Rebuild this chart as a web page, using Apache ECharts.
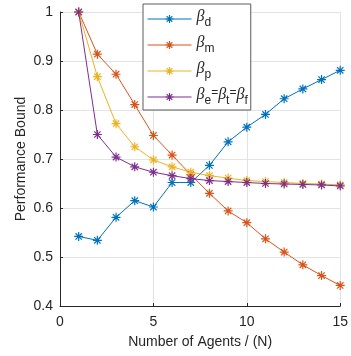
<!DOCTYPE html>
<html>
<head>
<meta charset="utf-8">
<script src="https://cdn.jsdelivr.net/npm/echarts@6/dist/echarts.min.js"></script>
<style>
  html, body { margin: 0; padding: 0; background: #fff; }
  #chart { width: 351px; height: 356px; }
</style>
</head>
<body>
<div id="chart"></div>
<script>
// Number of agents on the horizontal axis
const agents = [1, 2, 3, 4, 5, 6, 7, 8, 9, 10, 11, 12, 13, 14, 15];

// Performance bound for each bound type
const betaD = [0.542, 0.534, 0.581, 0.615, 0.602, 0.652, 0.652, 0.687, 0.735, 0.765, 0.791, 0.823, 0.843, 0.862, 0.881];
const betaM = [1.000, 0.914, 0.873, 0.811, 0.748, 0.708, 0.668, 0.630, 0.594, 0.570, 0.537, 0.510, 0.484, 0.462, 0.442];
const betaP = [1.000, 0.868, 0.772, 0.725, 0.698, 0.684, 0.673, 0.666, 0.661, 0.656, 0.654, 0.652, 0.650, 0.649, 0.647];
const betaE = [1.000, 0.750, 0.704, 0.684, 0.673, 0.666, 0.660, 0.656, 0.654, 0.652, 0.650, 0.649, 0.648, 0.647, 0.645];

// Legend labels (rich-text markup) and axis settings
const seriesNames = ['{b|β}{s|d}', '{b|β}{s|m}', '{b|β}{s|p}', '{b|β}{s|e}{t|=}{b|β}{s|t}{t|=}{b|β}{s|f}'];
const xTicks = { min: 0, max: 15, interval: 5 };
const yTicks = { min: 0.4, max: 1, interval: 0.1 };

const colors = ['#0072BD', '#D95319', '#EDB120', '#7E2F8E'];
const ink = '#262626';
const star = 'path://M0,-1L0,1M-1,0L1,0M-0.7071,-0.7071L0.7071,0.7071M-0.7071,0.7071L0.7071,-0.7071';

function pairs(ys) { return agents.map((x, i) => [x, ys[i]]); }

function makeSeries(name, ys, color) {
  return {
    name: name,
    type: 'line',
    data: pairs(ys),
    symbol: star,
    symbolSize: 9,
    showSymbol: true,
    lineStyle: { color: color, width: 1 },
    itemStyle: { color: 'rgba(0,0,0,0)', borderColor: color, borderWidth: 1.2 },
    emphasis: { disabled: true }
  };
}

const chart = echarts.init(document.getElementById('chart'), null, { renderer: 'canvas' });
chart.setOption({
  animation: false,
  backgroundColor: '#ffffff',
  grid: { left: 60, right: 10, top: 12, bottom: 50, containLabel: false },
  xAxis: {
    type: 'value',
    min: xTicks.min, max: xTicks.max, interval: xTicks.interval,
    name: 'Number of Agents / (N)',
    nameLocation: 'middle',
    nameGap: 29,
    nameMoveOverlap: false,
    nameTextStyle: { color: ink, fontSize: 14, fontFamily: 'Liberation Sans' },
    axisLine: { show: true, lineStyle: { color: ink, width: 1 } },
    axisTick: { show: true, inside: true, length: 3, lineStyle: { color: ink } },
    axisLabel: { color: ink, fontSize: 14, fontFamily: 'Liberation Sans', margin: 9 },
    splitLine: { show: true, lineStyle: { color: '#e3e3e3', width: 1 } }
  },
  yAxis: {
    type: 'value',
    min: yTicks.min, max: yTicks.max, interval: yTicks.interval,
    name: 'Performance Bound',
    nameLocation: 'middle',
    nameGap: 32,
    nameMoveOverlap: false,
    nameTextStyle: { color: ink, fontSize: 14, fontFamily: 'Liberation Sans' },
    axisLine: { show: true, lineStyle: { color: ink, width: 1 } },
    axisTick: { show: true, inside: true, length: 3, lineStyle: { color: ink } },
    axisLabel: {
      color: ink, fontSize: 14, fontFamily: 'Liberation Sans', margin: 7,
      formatter: v => String(Math.round(v * 10) / 10)
    },
    splitLine: { show: true, lineStyle: { color: '#e3e3e3', width: 1 } }
  },
  legend: {
    orient: 'vertical',
    left: 143,
    top: 4,
    padding: [5, 3, 3, 4],
    itemGap: 6,
    itemWidth: 44,
    itemHeight: 10,
    itemTextGap: 3,
    lineStyle: { width: 1 },
    itemStyle: { color: 'rgba(0,0,0,0)', borderWidth: 1.2 },
    backgroundColor: '#ffffff',
    borderColor: '#5a5a5a',
    borderWidth: 1,
    selectedMode: false,
    data: seriesNames,
    textStyle: {
      color: ink,
      rich: {
        b: { fontSize: 16, fontStyle: 'italic', fontFamily: 'Liberation Serif', color: ink, lineHeight: 20, verticalAlign: 'top' },
        s: { fontSize: 12, fontFamily: 'Liberation Sans', color: ink, lineHeight: 11, verticalAlign: 'bottom' },
        t: { fontSize: 12, fontFamily: 'Liberation Sans', color: ink, lineHeight: 20, verticalAlign: 'top' }
      }
    }
  },
  series: [
    makeSeries(seriesNames[0], betaD, colors[0]),
    makeSeries(seriesNames[1], betaM, colors[1]),
    makeSeries(seriesNames[2], betaP, colors[2]),
    makeSeries(seriesNames[3], betaE, colors[3])
  ]
});
</script>
</body>
</html>
